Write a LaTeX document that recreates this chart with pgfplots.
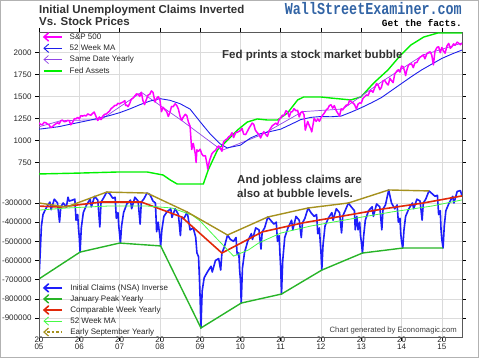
\documentclass[border=0pt]{standalone}
\usepackage{fontspec}
\setmainfont{Liberation Sans}
\newfontfamily\wsefont{Liberation Mono}
\usepackage{graphicx}
\usepackage{pgfplots}
\usepackage{pgfplotstable}
\pgfplotsset{compat=1.18}
\usetikzlibrary{arrows.meta}

\definecolor{spmag}{RGB}{255,0,255}
\definecolor{mablue}{RGB}{30,30,235}
\definecolor{sdpurple}{RGB}{145,70,230}
\definecolor{fedgreen}{RGB}{0,240,0}
\definecolor{clblue}{RGB}{30,30,250}
\definecolor{jangreen}{RGB}{40,180,40}
\definecolor{cwred}{RGB}{225,40,10}
\definecolor{malgreen}{RGB}{70,250,70}
\definecolor{olive2}{RGB}{165,145,30}
\definecolor{wseblue}{RGB}{50,100,165}
\definecolor{txtgray}{RGB}{50,50,50}

\pgfplotstableread{
x v
2005.00 1202
2005.04 1185
2005.08 1181
2005.13 1210
2005.17 1204
2005.21 1190
2005.25 1181
2005.29 1150
2005.33 1157
2005.38 1180
2005.42 1192
2005.46 1205
2005.50 1191
2005.54 1227
2005.58 1234
2005.63 1215
2005.67 1220
2005.71 1230
2005.75 1229
2005.79 1180
2005.83 1207
2005.88 1250
2005.92 1249
2005.96 1265
2006.00 1248
2006.04 1285
2006.08 1280
2006.13 1287
2006.17 1281
2006.21 1305
2006.25 1295
2006.29 1290
2006.33 1311
2006.37 1325
2006.42 1270
2006.46 1230
2006.50 1270
2006.54 1240
2006.58 1277
2006.63 1300
2006.67 1304
2006.71 1320
2006.75 1336
2006.79 1365
2006.83 1378
2006.88 1400
2006.92 1401
2006.96 1425
2007.00 1418
2007.04 1430
2007.08 1438
2007.13 1455
2007.15 1400
2007.17 1407
2007.21 1386
2007.25 1421
2007.29 1470
2007.33 1482
2007.38 1510
2007.42 1531
2007.46 1530
2007.50 1503
2007.54 1550
2007.58 1455
2007.62 1410
2007.67 1474
2007.71 1520
2007.75 1527
2007.79 1565
2007.83 1549
2007.88 1440
2007.92 1481
2007.96 1500
2008.00 1468
2008.04 1330
2008.08 1379
2008.13 1350
2008.17 1331
2008.21 1275
2008.25 1323
2008.29 1390
2008.33 1386
2008.38 1420
2008.42 1400
2008.46 1360
2008.50 1280
2008.54 1230
2008.58 1267
2008.63 1300
2008.67 1283
2008.71 1210
2008.75 1166
2008.79 900
2008.83 969
2008.88 850
2008.90 752
2008.92 896
2008.96 880
2009.00 903
2009.04 850
2009.08 826
2009.13 830
2009.17 735
2009.19 676
2009.23 770
2009.25 798
2009.29 850
2009.33 873
2009.38 890
2009.42 919
2009.46 940
2009.50 919
2009.54 880
2009.58 987
2009.63 1010
2009.67 1021
2009.71 1045
2009.75 1057
2009.79 1090
2009.83 1036
2009.88 1090
2009.92 1096
2009.96 1105
2010.00 1115
2010.04 1140
2010.08 1074
2010.13 1070
2010.17 1104
2010.21 1140
2010.25 1169
2010.29 1200
2010.33 1187
2010.37 1120
2010.42 1089
2010.46 1070
2010.50 1031
2010.54 1070
2010.58 1102
2010.63 1070
2010.67 1049
2010.71 1110
2010.75 1141
2010.79 1170
2010.83 1183
2010.88 1200
2010.92 1181
2010.96 1240
2011.00 1258
2011.04 1290
2011.08 1286
2011.13 1340
2011.17 1327
2011.21 1270
2011.25 1326
2011.29 1330
2011.33 1364
2011.38 1340
2011.42 1345
2011.46 1270
2011.50 1321
2011.54 1330
2011.58 1292
2011.61 1120
2011.67 1219
2011.71 1170
2011.75 1131
2011.77 1100
2011.83 1253
2011.88 1220
2011.92 1247
2011.96 1220
2012.00 1258
2012.04 1290
2012.08 1312
2012.13 1350
2012.17 1366
2012.21 1400
2012.25 1408
2012.29 1370
2012.33 1398
2012.38 1340
2012.42 1310
2012.46 1280
2012.50 1362
2012.54 1350
2012.58 1379
2012.63 1405
2012.67 1407
2012.71 1460
2012.75 1441
2012.79 1430
2012.83 1412
2012.88 1360
2012.92 1416
2012.96 1430
2013.00 1426
2013.04 1480
2013.08 1498
2013.13 1520
2013.17 1515
2013.21 1560
2013.25 1569
2013.29 1550
2013.33 1598
2013.38 1650
2013.42 1631
2013.46 1580
2013.50 1606
2013.54 1680
2013.58 1686
2013.63 1650
2013.67 1633
2013.71 1710
2013.75 1682
2013.79 1660
2013.83 1757
2013.88 1790
2013.92 1806
2013.96 1780
2014.00 1848
2014.04 1840
2014.08 1783
2014.10 1740
2014.13 1800
2014.17 1859
2014.21 1870
2014.25 1872
2014.29 1830
2014.33 1884
2014.38 1890
2014.42 1924
2014.46 1950
2014.50 1960
2014.54 1975
2014.58 1931
2014.63 1990
2014.67 2003
2014.71 2010
2014.75 1972
2014.79 1862
2014.83 2018
2014.88 2060
2014.92 2068
2014.96 2000
2015.00 2059
2015.04 2020
2015.08 1995
2015.13 2080
2015.17 2105
2015.21 2050
2015.25 2068
2015.29 2100
2015.33 2086
2015.38 2120
2015.42 2107
2015.46 2090
2015.50 2110
}\spx

\pgfplotstableread{
x v
2005.00 1131
2005.25 1145
2005.50 1160
2005.75 1185
2006.00 1208
2006.25 1232
2006.50 1258
2006.75 1285
2007.00 1318
2007.25 1360
2007.50 1408
2007.75 1450
2008.00 1478
2008.25 1459
2008.50 1421
2008.75 1359
2009.00 1215
2009.25 1076
2009.50 963
2009.67 918
2009.85 935
2010.00 949
2010.25 1031
2010.50 1080
2010.75 1105
2011.00 1131
2011.25 1185
2011.50 1240
2011.75 1265
2012.00 1275
2012.25 1272
2012.50 1280
2012.75 1325
2013.00 1375
2013.25 1430
2013.50 1490
2013.75 1570
2014.00 1650
2014.25 1730
2014.50 1805
2014.75 1870
2015.00 1935
2015.25 1985
2015.50 2030
}\spma

\pgfplotstableread{
x v
2004.54 1100
2005.54 1227
2006.54 1240
2007.54 1550
2008.54 1230
2009.54 890
2010.54 1070
2011.54 1330
2012.54 1360
2013.54 1680
2014.54 1975
2015.50 2110
}\spsame

\pgfplotstableread{
x v
2005.00 622
2006.00 632
2006.94 644
2007.69 644
2008.08 610
2008.26 553
2008.43 508
2009.08 508
2009.20 667
2009.43 894
2009.68 1008
2009.93 1122
2010.17 1212
2010.42 1247
2010.67 1235
2010.92 1235
2011.17 1315
2011.42 1463
2011.57 1497
2011.99 1497
2012.24 1485
2012.74 1463
2012.99 1497
2013.31 1656
2013.66 1803
2013.98 1974
2014.23 2087
2014.55 2178
2014.90 2224
2015.50 2224
}\fed

\pgfplotstableread{
x v
2005.00 -696000
2005.03 -560000
2005.06 -420000
2005.10 -360000
2005.18 -325000
2005.27 -295000
2005.30 -335000
2005.38 -280000
2005.46 -300000
2005.51 -400000
2005.54 -321000
2005.60 -300000
2005.68 -321000
2005.72 -270000
2005.75 -290000
2005.83 -285000
2005.89 -280000
2005.92 -390000
2005.96 -360000
2005.98 -430000
2006.00 -480000
2006.02 -556000
2006.05 -430000
2006.10 -350000
2006.18 -310000
2006.27 -280000
2006.30 -320000
2006.38 -265000
2006.46 -285000
2006.51 -425000
2006.54 -295000
2006.60 -275000
2006.68 -243000
2006.75 -250000
2006.83 -275000
2006.89 -270000
2006.92 -380000
2006.96 -350000
2006.98 -420000
2007.00 -460000
2007.02 -509000
2007.05 -420000
2007.10 -350000
2007.18 -305000
2007.27 -285000
2007.30 -330000
2007.38 -270000
2007.46 -290000
2007.51 -410000
2007.54 -295000
2007.60 -280000
2007.68 -248000
2007.75 -255000
2007.83 -290000
2007.89 -300000
2007.92 -450000
2007.96 -400000
2007.98 -440000
2008.00 -470000
2008.02 -524000
2008.05 -440000
2008.10 -370000
2008.18 -345000
2008.27 -330000
2008.30 -375000
2008.38 -330000
2008.46 -360000
2008.51 -470000
2008.54 -373000
2008.60 -380000
2008.68 -347000
2008.75 -440000
2008.83 -430000
2008.89 -480000
2008.92 -560000
2008.96 -580000
2008.98 -680000
2009.00 -800000
2009.02 -952000
2009.05 -760000
2009.10 -690000
2009.18 -660000
2009.27 -630000
2009.30 -660000
2009.38 -600000
2009.46 -590000
2009.51 -650000
2009.54 -561000
2009.60 -530000
2009.68 -467000
2009.75 -490000
2009.83 -500000
2009.89 -480000
2009.92 -570000
2009.96 -560000
2009.98 -650000
2010.00 -700000
2010.02 -822000
2010.05 -640000
2010.10 -560000
2010.18 -500000
2010.27 -460000
2010.30 -490000
2010.38 -430000
2010.46 -440000
2010.51 -540000
2010.54 -451000
2010.60 -430000
2010.68 -373000
2010.75 -390000
2010.83 -410000
2010.89 -400000
2010.92 -500000
2010.96 -470000
2010.98 -560000
2011.00 -640000
2011.02 -775000
2011.05 -600000
2011.10 -480000
2011.18 -430000
2011.27 -390000
2011.30 -440000
2011.38 -370000
2011.46 -390000
2011.51 -480000
2011.54 -404000
2011.60 -380000
2011.68 -326000
2011.75 -350000
2011.83 -370000
2011.89 -360000
2011.92 -460000
2011.96 -430000
2011.98 -500000
2012.00 -560000
2012.02 -650000
2012.05 -520000
2012.10 -420000
2012.18 -380000
2012.27 -350000
2012.30 -390000
2012.38 -330000
2012.46 -350000
2012.51 -456000
2012.54 -368000
2012.60 -340000
2012.68 -300000
2012.75 -320000
2012.83 -340000
2012.85 -440000
2012.89 -370000
2012.92 -440000
2012.96 -400000
2012.98 -470000
2013.00 -500000
2013.03 -561000
2013.06 -470000
2013.10 -390000
2013.18 -340000
2013.27 -320000
2013.30 -370000
2013.38 -305000
2013.46 -320000
2013.51 -440000
2013.54 -331000
2013.60 -310000
2013.68 -232000
2013.75 -300000
2013.83 -330000
2013.89 -310000
2013.92 -400000
2013.96 -380000
2013.98 -460000
2014.00 -500000
2014.03 -535000
2014.06 -440000
2014.10 -370000
2014.18 -330000
2014.27 -300000
2014.30 -330000
2014.38 -280000
2014.46 -290000
2014.51 -390000
2014.54 -300000
2014.60 -280000
2014.68 -237000
2014.75 -250000
2014.83 -265000
2014.89 -260000
2014.92 -360000
2014.96 -340000
2014.98 -440000
2015.00 -490000
2015.03 -535000
2015.06 -420000
2015.10 -340000
2015.18 -300000
2015.27 -265000
2015.30 -300000
2015.38 -240000
2015.46 -235000
2015.50 -263000
}\claims

\pgfplotstableread{
x v
2005.00 -696000
2006.02 -556000
2007.00 -509000
2008.02 -524000
2009.02 -952000
2010.02 -822000
2011.02 -775000
2012.02 -650000
2013.03 -561000
2014.03 -535000
2015.03 -535000
}\janpeak

\pgfplotstableread{
x v
2004.54 -312000
2005.54 -321000
2006.54 -295000
2007.54 -295000
2008.54 -373000
2009.54 -561000
2010.54 -451000
2011.54 -404000
2012.54 -368000
2013.54 -331000
2014.54 -300000
2015.50 -263000
}\compweek

\pgfplotstableread{
x v
2005.00 -337000
2005.70 -326000
2006.70 -316000
2007.70 -316000
2008.30 -326000
2008.80 -363000
2009.00 -394000
2009.40 -483000
2009.83 -577000
2010.20 -545000
2010.45 -509000
2011.00 -457000
2011.75 -420000
2012.75 -383000
2013.75 -347000
2014.75 -316000
2015.50 -284000
}\clma

\pgfplotstableread{
x v
2004.68 -290000
2005.68 -321000
2006.68 -243000
2007.68 -248000
2008.68 -347000
2009.68 -467000
2010.68 -373000
2011.68 -326000
2012.68 -300000
2013.68 -232000
2014.68 -237000
}\earlysep

\pgfplotsset{larrow/.style={legend image code/.code={%
  \draw (18pt,0pt) -- (0pt,0pt);
  \draw[line cap=round, line join=miter] (4.5pt,4pt) -- (0pt,0pt) -- (4.5pt,-4pt);}}}

\pgfplotsset{base/.style={
  at={(39pt,25pt)}, anchor=south west, width=423pt, height=305pt, scale only axis,
  xmin=2005, xmax=2015.5, clip=true,
  axis line style={draw=black!65, line width=0.6pt},
  tick style={black, line width=0.5pt}, tick align=outside, major tick length=4pt,
  minor tick num=0,
  major grid style={draw=black!14, line width=0.5pt},
  ticklabel style={font=\fontsize{8}{9}\selectfont, text=black!85},
  scaled y ticks=false,
  legend cell align=left,
}}

\begin{document}
\begin{tikzpicture}[x=1pt,y=1pt]
\path[use as bounding box] (0,0) rectangle (480,362);
\draw[black!30, line width=0.6pt] (0.5,4.5) rectangle (478.5,361.5);

% claims axis
\begin{axis}[base,
  ymin=-999130, ymax=592174,
  ytick={-900000,-800000,-700000,-600000,-500000,-400000,-300000},
  yticklabels={-900000,-800000,-700000,-600000,-500000,-400000,-300000},
  xtick={2005,2006,2007,2008,2009,2010,2011,2012,2013,2014,2015},
  xticklabels={{20\\05},{20\\06},{20\\07},{20\\08},{20\\09},{20\\10},{20\\11},{20\\12},{20\\13},{20\\14},{20\\15}},
  xticklabel style={align=center, font=\fontsize{8}{7.6}\selectfont, yshift=8pt},
  xmajorgrids, ymajorgrids,
  legend style={at={(axis description cs:0.0095,0.0)}, anchor=south west,
    draw=none, fill=none, font=\fontsize{8}{9}\selectfont, text=black!85,
    row sep=1.5pt, column sep=6pt, inner sep=0pt,
    nodes={inner sep=1pt, text height=6pt, text depth=1.5pt}},
]
\addplot[clblue, line width=1.6pt, line join=round, larrow] table[x=x,y=v] {\claims};
\addlegendentry{Initial Claims (NSA) Inverse}
\addplot[jangreen, line width=1.4pt, larrow] table[x=x,y=v] {\janpeak};
\addlegendentry{January Peak Yearly}
\addplot[cwred, line width=1.6pt, larrow] table[x=x,y=v] {\compweek};
\addlegendentry{Comparable Week Yearly}
\addplot[malgreen, line width=0.8pt, larrow] table[x=x,y=v] {\clma};
\addlegendentry{52 Week MA}
\addplot[olive2, line width=1.4pt, legend image code/.code={%
  \draw[dotted, line width=2.6pt] (3pt,0pt) -- (18pt,0pt);
  \draw[line width=1.2pt] (4.5pt,4pt) -- (0pt,0pt) -- (4.5pt,-4pt);}] table[x=x,y=v] {\earlysep};
\addlegendentry{Early September Yearly}
\end{axis}

% S&P axis
\begin{axis}[base,
  ymin=-1230.7, ymax=2235.2,
  ytick={750,1000,1250,1500,1750,2000},
  yticklabels={750,1000,1250,1500,1750,2000},
  xtick=\empty, ymajorgrids,
]
\addplot[fedgreen, line width=1.4pt] table[x=x,y=v] {\fed};
\addplot[sdpurple, line width=0.7pt] table[x=x,y=v] {\spsame};
\addplot[mablue, line width=0.9pt] table[x=x,y=v] {\spma};
\addplot[spmag, line width=1.5pt, line join=round] table[x=x,y=v] {\spx};
\end{axis}

% top legend
\begin{axis}[base, hide axis,
  ymin=-1230.7, ymax=2235.2,
  legend style={at={(axis description cs:0.0095,1.0)}, anchor=north west,
    draw=none, fill=none, font=\fontsize{8}{9}\selectfont, text=black!85,
    row sep=1.8pt, column sep=6pt, inner sep=0pt,
    nodes={inner sep=1pt, text height=6pt, text depth=1.5pt}},
]
\addlegendimage{spmag, line width=1.5pt, larrow}
\addlegendentry{S\&P 500}
\addlegendimage{mablue, line width=0.9pt, larrow}
\addlegendentry{52 Week MA}
\addlegendimage{sdpurple, line width=0.7pt, larrow}
\addlegendentry{Same Date Yearly}
\addlegendimage{fedgreen, line width=1.4pt, legend image code/.code={\draw (0pt,0pt) -- (18pt,0pt);}}
\addlegendentry{Fed Assets}
\end{axis}

% titles and annotations
\node[anchor=base west, font=\bfseries\fontsize{11.5}{12}\selectfont, text=txtgray, inner sep=0pt] at (39,348) {Initial Unemployment Claims Inverted};
\node[anchor=base west, font=\bfseries\fontsize{11.5}{12}\selectfont, text=txtgray, inner sep=0pt] at (39,336.5) {Vs. Stock Prices};
\node[anchor=base east, inner sep=0pt, text=wseblue] at (462,347) {\scalebox{1}[1.25]{\wsefont\bfseries\fontsize{13.4}{14}\selectfont WallStreetExaminer.com}};
\node[anchor=base east, inner sep=0pt, text=black] at (462,335) {\wsefont\bfseries\fontsize{9.5}{10}\selectfont Get the facts.};
\node[anchor=base west, font=\bfseries\fontsize{11.5}{12}\selectfont, text=txtgray, inner sep=0pt] at (222,303.5) {Fed prints a stock market bubble};
\node[anchor=base west, font=\bfseries\fontsize{11.5}{12}\selectfont, text=txtgray, inner sep=0pt] at (237,178) {And jobless claims are};
\node[anchor=base west, font=\bfseries\fontsize{11.5}{12}\selectfont, text=txtgray, inner sep=0pt] at (237,164) {also at bubble levels.};
\node[anchor=base east, font=\fontsize{7.7}{8}\selectfont, text=black!75, inner sep=0pt] at (457,30) {Chart generated by Economagic.com};
\end{tikzpicture}
\end{document}
